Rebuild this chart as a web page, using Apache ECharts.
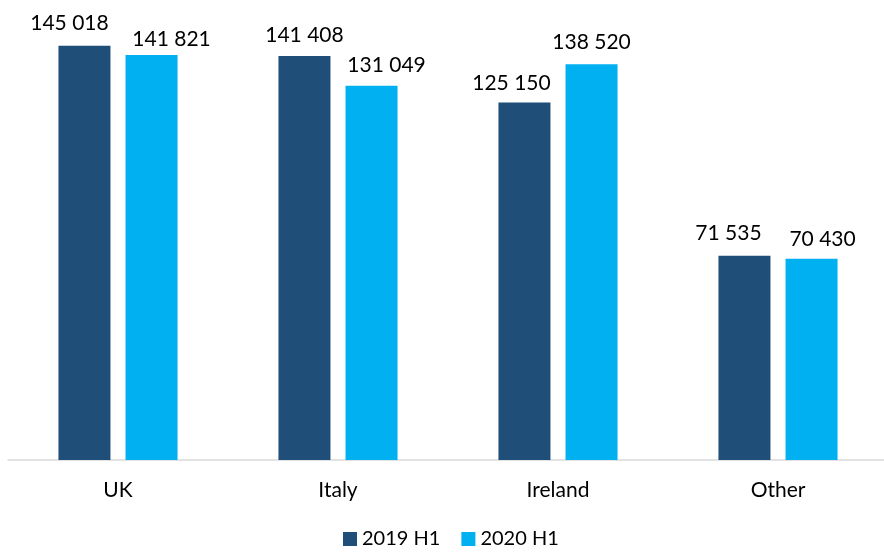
<!DOCTYPE html>
<html>
<head>
<meta charset="utf-8">
<script src="https://cdn.jsdelivr.net/npm/echarts@6/dist/echarts.min.js"></script>
<style>
html,body{margin:0;padding:0;background:#fff;}
#chart{width:884px;height:554px;}
</style>
</head>
<body>
<div id="chart"></div>
<script>
const categories = ['UK', 'Italy', 'Ireland', 'Other'];
const seriesNames = ['2019 H1', '2020 H1'];
const values2019 = [145018, 141408, 125150, 71535];
const values2020 = [141821, 131049, 138520, 70430];

// label nudges (layout only, as in the reference's hand-placed labels)
const labelShift2019 = [[-15, -2], [0, 0], [-13, 1], [-16, -2]];
const labelShift2020 = [[20, 5], [15, 0], [0, -2], [11, 1]];

const FONT = 'Lato';
const fmt = v => String(v).replace(/\B(?=(\d{3})+(?!\d))/g, ' ');

function makeData(vals, shifts) {
  return vals.map((v, i) => ({
    value: v,
    label: { offset: shifts[i] }
  }));
}

const chart = echarts.init(document.getElementById('chart'));
chart.setOption({
  animation: false,
  textStyle: { fontFamily: FONT },
  grid: { left: 8, width: 880, top: 3, bottom: 94, containLabel: false, outerBoundsMode: 'none' },
  legend: {
    bottom: 0,
    left: 338,
    itemWidth: 14,
    itemHeight: 14,
    itemGap: 21,
    icon: 'rect',
    textStyle: { fontFamily: FONT, fontSize: 20, color: '#000' },
    data: seriesNames
  },
  xAxis: {
    type: 'category',
    data: categories,
    axisLine: { lineStyle: { color: '#D9D9D9', width: 1.5 } },
    axisTick: { show: false },
    axisLabel: { fontFamily: FONT, fontSize: 21, color: '#000', margin: 20 }
  },
  yAxis: {
    type: 'value',
    min: 0,
    max: 160000,
    show: false,
    splitLine: { show: false }
  },
  series: [
    {
      name: seriesNames[0],
      type: 'bar',
      data: makeData(values2019, labelShift2019),
      barWidth: 52,
      barGap: '29%',
      itemStyle: { color: '#1F4E79' },
      label: {
        show: true, position: 'top', distance: 10,
        fontFamily: FONT, fontSize: 21, color: '#000',
        formatter: p => fmt(p.value)
      }
    },
    {
      name: seriesNames[1],
      type: 'bar',
      data: makeData(values2020, labelShift2020),
      barWidth: 52,
      barGap: '29%',
      itemStyle: { color: '#00B0F0' },
      label: {
        show: true, position: 'top', distance: 10,
        fontFamily: FONT, fontSize: 21, color: '#000',
        formatter: p => fmt(p.value)
      }
    }
  ]
});
</script>
</body>
</html>
